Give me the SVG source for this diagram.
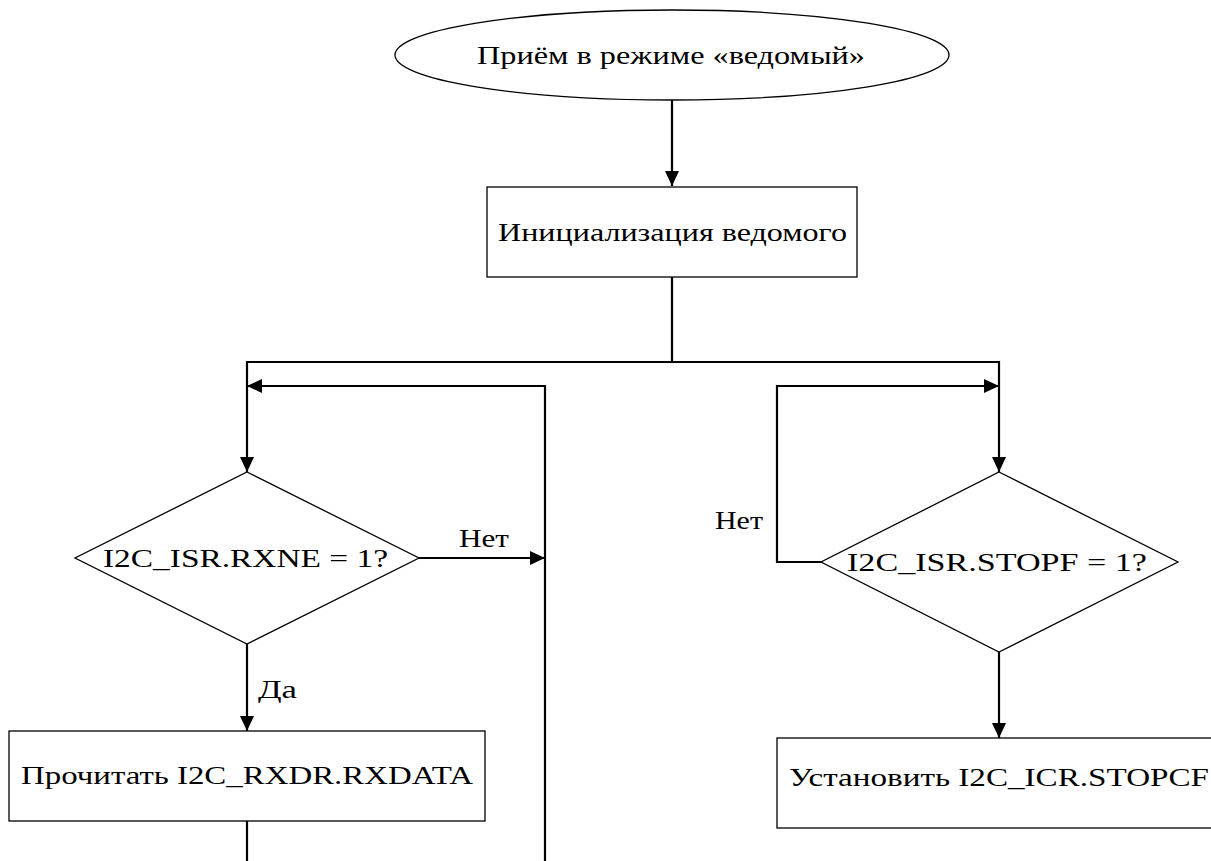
<svg xmlns="http://www.w3.org/2000/svg" width="1211" height="861" viewBox="0 0 1211 861">
<style>
.shape{fill:#fff;stroke:#000;stroke-width:1.3}
.conn{fill:none;stroke:#000;stroke-width:2.2}
text{font-family:"Liberation Serif","DejaVu Serif",serif;font-size:26px;fill:#000}
</style>
<defs>
<marker id="arr" markerUnits="userSpaceOnUse" markerWidth="16" markerHeight="16" refX="15" refY="7" orient="auto">
<path d="M0,0 L15,7 L0,14 z" fill="#000"/>
</marker>
</defs>
<rect width="1211" height="861" fill="#fff"/>
<g id="connectors">
<path class="conn" d="M672,100 V186" marker-end="url(#arr)"/>
<path class="conn" d="M672,277 V362 H247 V472" marker-end="url(#arr)"/>
<path class="conn" d="M672,362 H999 V472" marker-end="url(#arr)"/>
<path class="conn" d="M545,861 V386 H247" marker-end="url(#arr)"/>
<path class="conn" d="M419,558 H545" marker-end="url(#arr)"/>
<path class="conn" d="M247,644 V731" marker-end="url(#arr)"/>
<path class="conn" d="M247,821 V861"/>
<path class="conn" d="M821,562 H777 V386 H999" marker-end="url(#arr)"/>
<path class="conn" d="M999,652 V738" marker-end="url(#arr)"/>
<text x="459" y="547" textLength="50" lengthAdjust="spacingAndGlyphs">Нет</text>
<text x="715" y="529" textLength="48" lengthAdjust="spacingAndGlyphs">Нет</text>
<text x="258" y="698" textLength="39" lengthAdjust="spacingAndGlyphs">Да</text>
</g>
<g id="start">
<ellipse class="shape" cx="672" cy="55" rx="277" ry="45"/>
<text x="477" y="64" textLength="388" lengthAdjust="spacingAndGlyphs">Приём в режиме «ведомый»</text>
</g>
<g id="init">
<rect class="shape" x="487" y="187" width="370" height="90"/>
<text x="498" y="241" textLength="349" lengthAdjust="spacingAndGlyphs">Инициализация ведомого</text>
</g>
<g id="rxne">
<polygon class="shape" points="247,472 419,558 247,644 75,558"/>
<text x="103" y="567" textLength="285" lengthAdjust="spacingAndGlyphs">I2C_ISR.RXNE = 1?</text>
</g>
<g id="stopf">
<polygon class="shape" points="999,472 1178,562 999,652 821,562"/>
<text x="847" y="571" textLength="300" lengthAdjust="spacingAndGlyphs">I2C_ISR.STOPF = 1?</text>
</g>
<g id="read">
<rect class="shape" x="9" y="731" width="476" height="90"/>
<text x="21" y="784" textLength="452" lengthAdjust="spacingAndGlyphs">Прочитать I2C_RXDR.RXDATA</text>
</g>
<g id="clear">
<rect class="shape" x="777" y="738" width="450" height="90"/>
<text x="789" y="786" textLength="420" lengthAdjust="spacingAndGlyphs">Установить I2C_ICR.STOPCF</text>
</g>
</svg>
